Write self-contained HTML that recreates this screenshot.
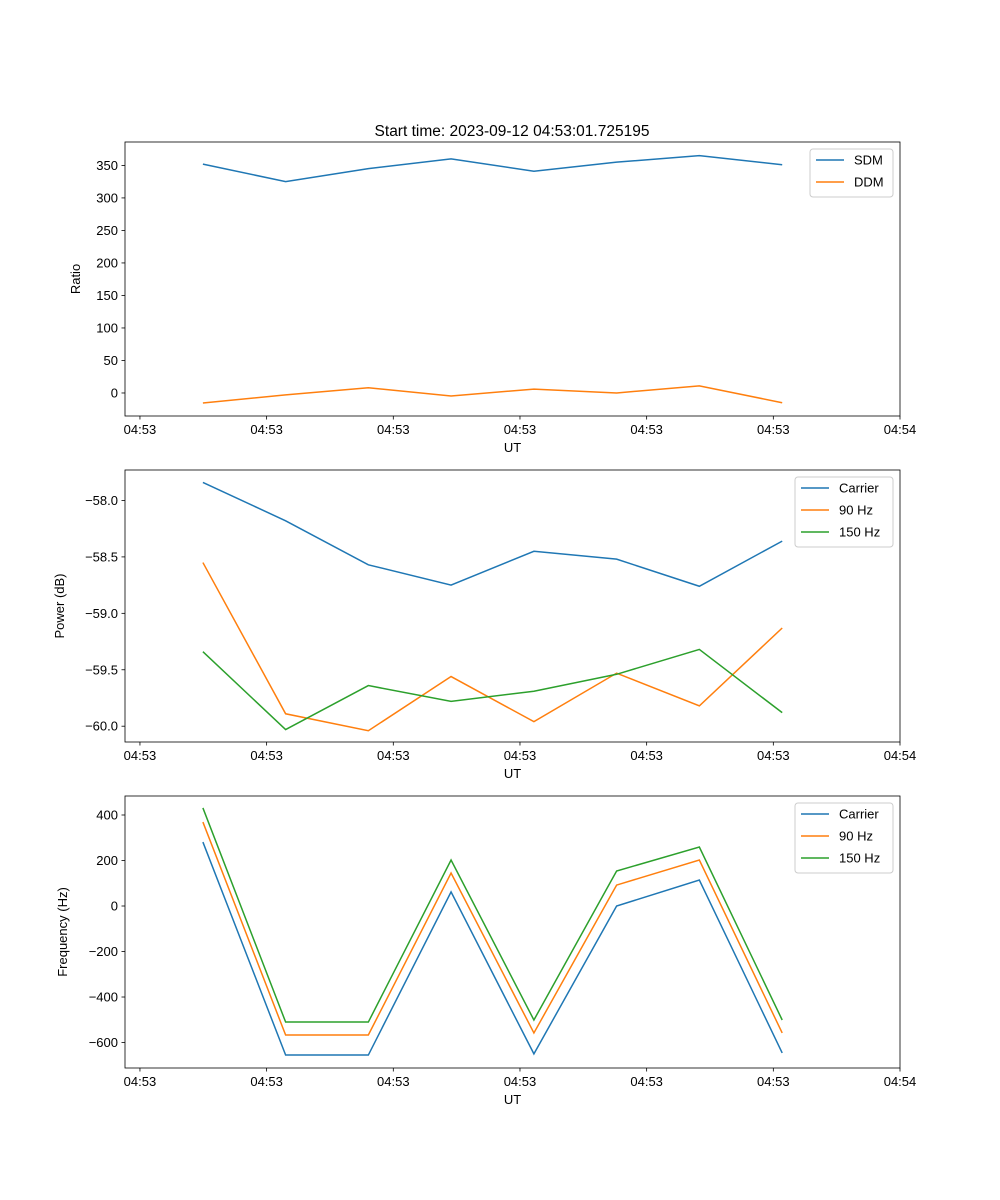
<!DOCTYPE html>
<html><head><meta charset="utf-8"><style>
body{margin:0;background:#fff}
svg{display:block;font-family:"Liberation Sans","DejaVu Sans",sans-serif}
</style></head><body>
<svg id="fig" width="1000" height="1200" viewBox="0 0 1000 1200"></svg>
<script>
const times=[4.97,11.5,18.03,24.56,31.1,37.63,44.16,50.7];
const xTicks=[0,10,20,30,40,50,60];
const xTickLabels=["04:53","04:53","04:53","04:53","04:53","04:53","04:54"];
const sdm=[352,325,345,360,341,355,365,351];
const ddm=[-15.4,-3,8,-4.6,6,0,11,-15];
const ratioTicks=[0,50,100,150,200,250,300,350];
const powCarrier=[-57.84,-58.18,-58.57,-58.75,-58.45,-58.52,-58.76,-58.36];
const pow90=[-58.55,-59.89,-60.04,-59.56,-59.96,-59.53,-59.82,-59.13];
const pow150=[-59.34,-60.03,-59.64,-59.78,-59.69,-59.54,-59.32,-59.88];
const powTicks=[-60,-59.5,-59,-58.5,-58];
const freqCarrier=[281,-655,-655,62,-650,0,114,-646];
const freq90=[369,-567,-567,145,-558,92,202,-558];
const freq150=[431,-510,-510,202,-501,154,259,-501];
const freqTicks=[-600,-400,-200,0,200,400];

const NS="http://www.w3.org/2000/svg";
const svg=document.getElementById('fig');
function el(tag,attrs,parent){const e=document.createElementNS(NS,tag);for(const k in attrs)e.setAttribute(k,attrs[k]);(parent||svg).appendChild(e);return e;}
const C=["#1f77b4","#ff7f0e","#2ca02c"];
const L=125,R=900;
const xMin=-1.18,xMax=60;
function xs(t){return L+(t-xMin)/(xMax-xMin)*(R-L);}

function panel(name,top,bot,yMin,yMax,yTicks,fmt,ylabel,series,legend){
  const g=el('g',{});
  
  
  const ys=v=>bot-(v-yMin)/(yMax-yMin)*(bot-top);
  // series
  series.forEach((s,i)=>{
    const p=el('polyline',{points:s.vals.map((v,j)=>xs(times[j])+','+ys(v)).join(' '),fill:'none',stroke:C[i],'stroke-width':1.5},g);
    
    
  });
  const fr=el('rect',{x:L,y:top,width:R-L,height:bot-top,fill:'none',stroke:'#000','stroke-width':0.8},g);
  
  
  xTicks.forEach((t,i)=>{
    const x=xs(t);
    el('line',{x1:x,x2:x,y1:bot,y2:bot+3.5,stroke:'#000','stroke-width':0.8},g);
    const tx=el('text',{x:x,y:bot+18,'font-size':13,'text-anchor':'middle'},g);
    tx.textContent=xTickLabels[i];
    
    
  });
  const xl=el('text',{x:(L+R)/2,y:bot+36,'font-size':13,'text-anchor':'middle'},g);
  xl.textContent='UT';
  
  
  yTicks.forEach(v=>{
    const y=ys(v);
    el('line',{x1:L-3.5,x2:L,y1:y,y2:y,stroke:'#000','stroke-width':0.8},g);
    const tx=el('text',{x:L-7,y:y+4.5,'font-size':13,'text-anchor':'end'},g);
    tx.textContent=fmt(v);
    
    
  });
  const yl=el('text',{x:0,y:0,'font-size':13,'text-anchor':'middle',transform:`translate(${ylabel.x},${(top+bot)/2}) rotate(-90)`},g);
  yl.textContent=ylabel.text;
  
  
  // legend
  const lg=el('g',{},g);
  
  
  el('rect',{x:legend.x,y:top+7,width:893-legend.x,height:series.length*22+4,fill:'#fff',stroke:'#ccc',rx:3},lg);
  series.forEach((s,i)=>{
    const y=top+18+i*22;
    el('line',{x1:legend.x+6,x2:legend.x+34,y1:y,y2:y,stroke:C[i],'stroke-width':1.5},lg);
    const tx=el('text',{x:legend.x+44,y:y+4.5,'font-size':13},lg);
    tx.textContent=s.label;
    
    
  });
}
const title=el('text',{x:512,y:136,'font-size':15.5,'text-anchor':'middle'});
title.textContent='Start time: 2023-09-12 04:53:01.725195';



panel('ratio-panel',142,416,-35.4,386,ratioTicks,v=>v<0?'−'+(-v):String(v),{x:80,text:'Ratio'},
  [{name:'sdm',label:'SDM',vals:sdm},{name:'ddm',label:'DDM',vals:ddm}],{x:810});
panel('power-panel',470,742,-60.14,-57.73,powTicks,v=>'−'+Math.abs(v).toFixed(1),{x:64,text:'Power (dB)'},
  [{name:'carrier-power',label:'Carrier',vals:powCarrier},{name:'90hz-power',label:'90 Hz',vals:pow90},{name:'150hz-power',label:'150 Hz',vals:pow150}],{x:795});
panel('frequency-panel',796,1068,-712,483.5,freqTicks,v=>v<0?'−'+(-v):String(v),{x:67,text:'Frequency (Hz)'},
  [{name:'carrier-freq',label:'Carrier',vals:freqCarrier},{name:'90hz-freq',label:'90 Hz',vals:freq90},{name:'150hz-freq',label:'150 Hz',vals:freq150}],{x:795});
</script>
</body></html>
